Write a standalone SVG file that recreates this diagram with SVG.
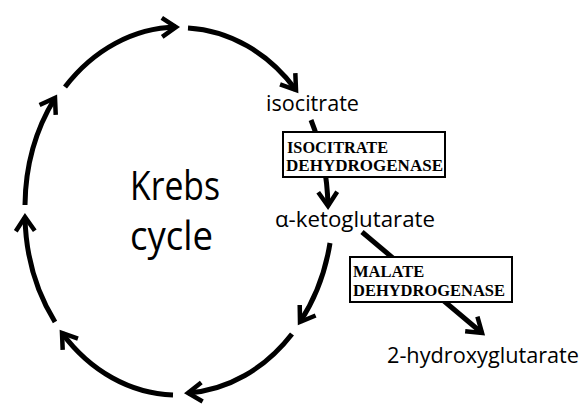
<svg xmlns="http://www.w3.org/2000/svg" width="585" height="405" viewBox="0 0 585 405">
<defs>
<marker id="ah" markerUnits="userSpaceOnUse" markerWidth="30" markerHeight="30" refX="0" refY="0" viewBox="-20 -15 25 30" orient="auto" overflow="visible">
<path d="M-14,-9.5 L0,0 L-14,9.5" fill="none" stroke="#000" stroke-width="4.5" stroke-linejoin="miter"/>
</marker>
<style>
.arc{fill:none;stroke:#000;stroke-width:5;marker-end:url(#ah)}
.lbl{font-family:"Open Sans","Noto Sans","Liberation Sans",sans-serif;fill:#000}
.enz{font-family:"Liberation Serif","Times New Roman",serif;font-weight:bold;font-size:16.5px;fill:#000}
.box{fill:#fff;stroke:#000;stroke-width:2}
</style>
</defs>
<rect width="585" height="405" fill="#fff"/>
<g id="connectors">
<path class="arc" d="M25,205 A154,184 0 0 1 55,98"/>
<path class="arc" d="M65,87 A154,184 0 0 1 176,27"/>
<path class="arc" d="M188,28 A154,184 0 0 1 296,90"/>
<path class="arc" d="M330,243 A154,184 0 0 1 300,322"/>
<path class="arc" d="M292,334 A154,184 0 0 1 188,393"/>
<path class="arc" d="M173,395 A154,184 0 0 1 62,333"/>
<path class="arc" d="M55,322 A154,184 0 0 1 25,217"/>
<path class="arc" d="M311,120 Q327,160 328,206"/>
<path class="arc" d="M362,232 L482,333"/>
</g>
<g id="krebs">
<text class="lbl" x="130" y="200" font-size="40" textLength="90" lengthAdjust="spacingAndGlyphs">Krebs</text>
<text class="lbl" x="130" y="250" font-size="40" textLength="83" lengthAdjust="spacingAndGlyphs">cycle</text>
</g>
<g id="isocitrate">
<text class="lbl" x="266" y="111" font-size="21" textLength="93" lengthAdjust="spacingAndGlyphs">isocitrate</text>
</g>
<g id="isocitrate-dehydrogenase">
<rect class="box" x="283" y="132" width="162" height="45"/>
<text class="enz" x="287" y="153" textLength="101" lengthAdjust="spacingAndGlyphs">ISOCITRATE</text>
<text class="enz" x="286" y="171" textLength="157" lengthAdjust="spacingAndGlyphs">DEHYDROGENASE</text>
</g>
<g id="alpha-ketoglutarate">
<text class="lbl" x="275" y="227" font-size="21" textLength="160" lengthAdjust="spacingAndGlyphs">α-ketoglutarate</text>
</g>
<g id="malate-dehydrogenase">
<rect class="box" x="350" y="257" width="162" height="45"/>
<text class="enz" x="353" y="277">MALATE</text>
<text class="enz" x="353" y="296" textLength="152" lengthAdjust="spacingAndGlyphs">DEHYDROGENASE</text>
</g>
<g id="hydroxyglutarate">
<text class="lbl" x="387" y="363" font-size="21" textLength="192" lengthAdjust="spacingAndGlyphs">2-hydroxyglutarate</text>
</g>
</svg>
